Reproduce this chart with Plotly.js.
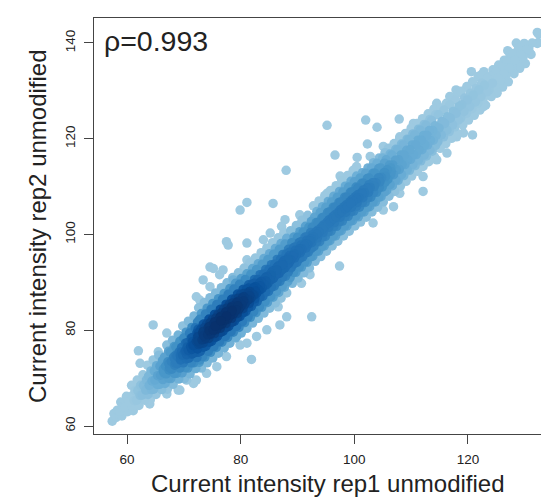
<!DOCTYPE html>
<html><head><meta charset="utf-8">
<script src="https://cdn.plot.ly/plotly-3.0.1.min.js"></script>
<style>html,body{margin:0;padding:0;overflow:hidden;background:#fff}</style>
</head><body>
<div id="chart" style="width:575px;height:497px"></div>
<script>
// main band points (rep1 = x, rep2 = y)
const bandRep1 = [
57.4,57.9,
58.1,57.7,58.3,
59.1,58.7,59.3,58.9,
60.1,59.7,60.3,59.9,
61.1,60.7,61.3,60.9,61.4,60.8,
62.1,61.7,62.3,61.9,62.4,61.8,
63.1,62.7,63.3,62.9,63.4,62.8,
64.1,63.7,64.3,63.9,64.4,63.8,64.2,63.6,
65.1,64.7,65.3,64.9,65.4,64.8,65.2,64.6,
66.1,65.7,66.3,65.9,66.4,65.8,66.2,65.6,
67.1,66.7,67.3,66.9,67.4,66.8,67.2,66.6,67.3,67.0,
68.1,67.7,68.3,67.9,68.4,67.8,68.2,67.6,68.3,68.0,
69.1,68.7,69.3,68.9,69.4,68.8,69.2,68.6,69.3,69.0,
70.1,69.7,70.3,69.9,70.4,69.8,70.2,69.6,70.3,70.0,70.4,69.8,
71.1,70.7,71.3,70.9,71.4,70.8,71.2,70.6,71.3,71.0,71.4,70.8,
72.1,71.7,72.3,71.9,72.4,71.8,72.2,71.6,72.3,72.0,72.4,71.8,
73.1,72.7,73.3,72.9,73.4,72.8,73.2,72.6,73.3,73.0,73.4,72.8,73.1,72.6,
74.1,73.7,74.3,73.9,74.4,73.8,74.2,73.6,74.3,74.0,74.4,73.8,74.1,73.6,
75.1,74.7,75.3,74.9,75.4,74.8,75.2,74.6,75.3,75.0,75.4,74.8,75.1,74.6,
76.1,75.7,76.3,75.9,76.4,75.8,76.2,75.6,76.3,76.0,76.4,75.8,76.1,75.6,
77.1,76.7,77.3,76.9,77.4,76.8,77.2,76.6,77.3,77.0,77.4,76.8,77.1,76.6,
78.1,77.7,78.3,77.9,78.4,77.8,78.2,77.6,78.3,78.0,78.4,77.8,78.1,77.6,
79.1,78.7,79.3,78.9,79.4,78.8,79.2,78.6,79.3,79.0,79.4,78.8,79.1,78.6,
80.1,79.7,80.3,79.9,80.4,79.8,80.2,79.6,80.3,80.0,80.4,79.8,80.1,79.6,
81.1,80.7,81.3,80.9,81.4,80.8,81.2,80.6,81.3,81.0,81.4,80.8,81.1,80.6,
82.1,81.7,82.3,81.9,82.4,81.8,82.2,81.6,82.3,82.0,82.4,81.8,82.1,81.6,
83.1,82.7,83.3,82.9,83.4,82.8,83.2,82.6,83.3,83.0,83.4,82.8,83.1,82.6,
84.1,83.7,84.3,83.9,84.4,83.8,84.2,83.6,84.3,84.0,84.4,83.8,84.1,83.6,
85.1,84.7,85.3,84.9,85.4,84.8,85.2,84.6,85.3,85.0,85.4,84.8,85.1,84.6,
86.1,85.7,86.3,85.9,86.4,85.8,86.2,85.6,86.3,86.0,86.4,85.8,86.1,85.6,
87.1,86.7,87.3,86.9,87.4,86.8,87.2,86.6,87.3,87.0,87.4,86.8,87.1,86.6,
88.1,87.7,88.3,87.9,88.4,87.8,88.2,87.6,88.3,88.0,88.4,87.8,88.1,87.6,
89.1,88.7,89.3,88.9,89.4,88.8,89.2,88.6,89.3,89.0,89.4,88.8,
90.1,89.7,90.3,89.9,90.4,89.8,90.2,89.6,90.3,90.0,90.4,89.8,
91.1,90.7,91.3,90.9,91.4,90.8,91.2,90.6,91.3,91.0,91.4,90.8,
92.1,91.7,92.3,91.9,92.4,91.8,92.2,91.6,92.3,92.0,92.4,91.8,
93.1,92.7,93.3,92.9,93.4,92.8,93.2,92.6,93.3,93.0,93.4,92.8,
94.1,93.7,94.3,93.9,94.4,93.8,94.2,93.6,94.3,94.0,94.4,93.8,
95.1,94.7,95.3,94.9,95.4,94.8,95.2,94.6,95.3,95.0,95.4,94.8,
96.1,95.7,96.3,95.9,96.4,95.8,96.2,95.6,96.3,96.0,96.4,95.8,
97.1,96.7,97.3,96.9,97.4,96.8,97.2,96.6,97.3,97.0,97.4,96.8,
98.1,97.7,98.3,97.9,98.4,97.8,98.2,97.6,98.3,98.0,98.4,97.8,
99.1,98.7,99.3,98.9,99.4,98.8,99.2,98.6,99.3,99.0,99.4,98.8,
100.1,99.7,100.3,99.9,100.4,99.8,100.2,99.6,100.3,100.0,100.4,99.8,
101.1,100.7,101.3,100.9,101.4,100.8,101.2,100.6,101.3,101.0,101.4,
102.1,101.7,102.3,101.9,102.4,101.8,102.2,101.6,102.3,102.0,102.4,
103.1,102.7,103.3,102.9,103.4,102.8,103.2,102.6,103.3,103.0,103.4,
104.1,103.7,104.3,103.9,104.4,103.8,104.2,103.6,104.3,104.0,104.4,
105.1,104.7,105.3,104.9,105.4,104.8,105.2,104.6,105.3,105.0,105.4,
106.1,105.7,106.3,105.9,106.4,105.8,106.2,105.6,106.3,106.0,
107.1,106.7,107.3,106.9,107.4,106.8,107.2,106.6,107.3,107.0,
108.1,107.7,108.3,107.9,108.4,107.8,108.2,107.6,108.3,108.0,
109.1,108.7,109.3,108.9,109.4,108.8,109.2,108.6,109.3,109.0,
110.1,109.7,110.3,109.9,110.4,109.8,110.2,109.6,110.3,110.0,
111.1,110.7,111.3,110.9,111.4,110.8,111.2,110.6,111.3,111.0,
112.1,111.7,112.3,111.9,112.4,111.8,112.2,111.6,112.3,112.0,
113.1,112.7,113.3,112.9,113.4,112.8,113.2,112.6,113.3,113.0,
114.1,113.7,114.3,113.9,114.4,113.8,114.2,113.6,114.3,114.0,
115.1,114.7,115.3,114.9,115.4,114.8,115.2,
116.1,115.7,116.3,115.9,116.4,115.8,116.2,
117.1,116.7,117.3,116.9,117.4,116.8,117.2,
118.1,117.7,118.3,117.9,118.4,117.8,118.2,
119.1,118.7,119.3,118.9,119.4,118.8,
120.1,119.7,120.3,119.9,120.4,119.8,
121.1,120.7,121.3,120.9,121.4,120.8,
122.1,121.7,122.3,121.9,122.4,121.8,
123.1,122.7,123.3,122.9,123.4,122.8,
124.1,123.7,124.3,123.9,124.4,
125.1,124.7,125.3,124.9,125.4,
126.1,125.7,126.3,125.9,126.4,
127.1,126.7,127.3,126.9,127.4,
128.1,127.7,128.3,127.9,
129.1,128.7,129.3,128.9,
130.1,129.7,130.3,129.9,
131.1,130.7,131.3,
132.2,132.4
];
const bandRep2 = [
61.0,61.9,
61.8,62.6,63.3,
62.1,63.1,64.0,65.0,
63.0,64.0,65.0,66.2,
63.2,64.3,65.3,66.3,67.4,68.5,
64.3,65.4,66.4,67.4,68.5,69.6,
65.4,66.5,67.5,68.5,69.6,70.7,
65.5,66.6,67.6,68.5,69.4,70.4,71.5,72.7,
66.6,67.7,68.7,69.6,70.5,71.5,72.6,73.8,
67.6,68.7,69.7,70.6,71.5,72.5,73.6,74.8,
67.7,68.9,70.0,70.9,71.7,72.5,73.4,74.4,75.6,76.9,
68.7,69.9,71.0,71.9,72.7,73.5,74.4,75.4,76.6,77.9,
69.8,71.0,72.1,73.0,73.8,74.6,75.5,76.5,77.7,79.0,
69.9,71.1,72.2,73.2,74.0,74.8,75.6,76.4,77.3,78.4,79.6,80.9,
70.9,72.1,73.2,74.2,75.0,75.8,76.6,77.4,78.3,79.4,80.6,81.9,
72.0,73.2,74.3,75.3,76.1,76.9,77.7,78.5,79.4,80.5,81.7,83.0,
72.1,73.3,74.5,75.6,76.5,77.3,78.0,78.7,79.4,80.2,81.2,82.3,83.5,84.7,
73.2,74.4,75.6,76.7,77.6,78.4,79.1,79.8,80.5,81.3,82.3,83.4,84.6,85.8,
74.2,75.4,76.6,77.7,78.6,79.4,80.1,80.8,81.5,82.3,83.3,84.4,85.6,86.8,
75.2,76.4,77.6,78.7,79.6,80.4,81.1,81.8,82.5,83.3,84.3,85.4,86.6,87.8,
76.3,77.5,78.7,79.8,80.7,81.5,82.2,82.9,83.6,84.4,85.4,86.5,87.7,88.9,
77.3,78.5,79.7,80.8,81.7,82.5,83.2,83.9,84.6,85.4,86.4,87.5,88.7,89.9,
78.4,79.6,80.8,81.9,82.8,83.6,84.3,85.0,85.7,86.5,87.5,88.6,89.8,91.0,
79.4,80.6,81.8,82.9,83.8,84.6,85.3,86.0,86.7,87.5,88.5,89.6,90.8,92.0,
80.4,81.6,82.8,83.9,84.8,85.6,86.3,87.0,87.7,88.5,89.5,90.6,91.8,93.0,
81.5,82.7,83.9,85.0,85.9,86.7,87.4,88.1,88.8,89.6,90.6,91.7,92.9,94.1,
82.5,83.7,84.9,86.0,86.9,87.7,88.4,89.1,89.8,90.6,91.6,92.7,93.9,95.1,
83.6,84.8,86.0,87.1,88.0,88.8,89.5,90.2,90.9,91.7,92.7,93.8,95.0,96.2,
84.6,85.8,87.0,88.1,89.0,89.8,90.5,91.2,91.9,92.7,93.7,94.8,96.0,97.2,
85.7,86.9,88.1,89.2,90.1,90.9,91.6,92.3,93.0,93.8,94.8,95.9,97.1,98.3,
86.7,87.9,89.1,90.2,91.1,91.9,92.6,93.3,94.0,94.8,95.8,96.9,98.1,99.3,
87.8,89.0,90.2,91.3,92.2,93.0,93.7,94.4,95.1,95.9,96.9,98.0,99.2,100.4,
89.8,91.0,92.1,93.1,93.9,94.7,95.5,96.3,97.2,98.3,99.5,100.8,
90.9,92.1,93.2,94.2,95.0,95.8,96.6,97.4,98.3,99.4,100.6,101.9,
92.0,93.2,94.3,95.3,96.1,96.9,97.7,98.5,99.4,100.5,101.7,103.0,
93.0,94.2,95.3,96.3,97.1,97.9,98.7,99.5,100.4,101.5,102.7,104.0,
94.4,95.5,96.5,97.5,98.5,99.5,100.5,101.5,102.5,103.6,104.8,106.0,
95.4,96.5,97.5,98.5,99.5,100.5,101.5,102.5,103.5,104.6,105.8,107.0,
96.5,97.6,98.6,99.6,100.6,101.6,102.6,103.6,104.6,105.7,106.9,108.1,
97.6,98.7,99.7,100.7,101.7,102.7,103.7,104.7,105.7,106.8,108.0,109.2,
98.6,99.7,100.7,101.7,102.7,103.7,104.7,105.7,106.7,107.8,109.0,110.2,
99.7,100.8,101.8,102.8,103.8,104.8,105.8,106.8,107.8,108.9,110.1,111.3,
100.7,101.8,102.8,103.8,104.8,105.8,106.8,107.8,108.8,109.9,111.1,112.3,
101.8,102.9,103.9,104.9,105.9,106.9,107.9,108.9,109.9,111.0,112.2,113.4,
102.6,103.7,104.7,105.7,106.7,107.7,108.7,109.7,110.7,111.8,112.9,
103.6,104.7,105.7,106.7,107.7,108.7,109.7,110.7,111.7,112.8,113.9,
104.7,105.8,106.8,107.8,108.8,109.8,110.8,111.8,112.8,113.9,115.0,
105.7,106.8,107.8,108.8,109.8,110.8,111.8,112.8,113.8,114.9,116.0,
106.8,107.9,108.9,109.9,110.9,111.9,112.9,113.9,114.9,116.0,117.1,
108.0,109.2,110.4,111.5,112.5,113.5,114.5,115.6,116.8,118.0,
109.0,110.2,111.4,112.5,113.5,114.5,115.5,116.6,117.8,119.0,
110.1,111.3,112.5,113.6,114.6,115.6,116.6,117.7,118.9,120.1,
111.1,112.3,113.5,114.6,115.6,116.6,117.6,118.7,119.9,121.1,
112.2,113.4,114.6,115.7,116.7,117.7,118.7,119.8,121.0,122.2,
113.2,114.4,115.6,116.7,117.7,118.7,119.7,120.8,122.0,123.2,
114.2,115.4,116.6,117.7,118.7,119.7,120.7,121.8,123.0,124.2,
115.2,116.4,117.6,118.7,119.7,120.7,121.7,122.8,124.0,125.2,
116.2,117.4,118.6,119.7,120.7,121.7,122.7,123.8,125.0,126.2,
118.0,119.4,120.8,122.2,123.6,125.0,126.4,
119.0,120.4,121.8,123.2,124.6,126.0,127.4,
120.1,121.5,122.9,124.3,125.7,127.1,128.5,
121.1,122.5,123.9,125.3,126.7,128.1,129.5,
122.9,124.3,125.7,127.1,128.5,129.9,
123.9,125.3,126.7,128.1,129.5,130.9,
124.9,126.3,127.7,129.1,130.5,131.9,
126.0,127.4,128.8,130.2,131.6,133.0,
127.0,128.4,129.8,131.2,132.6,134.0,
128.8,130.2,131.6,133.0,134.4,
129.8,131.2,132.6,134.0,135.4,
130.8,132.2,133.6,135.0,136.4,
131.9,133.3,134.7,136.1,137.5,
133.6,135.0,136.4,137.8,
134.7,136.1,137.5,138.9,
135.7,137.1,138.5,139.9,
137.6,138.8,140.0,
139.9,141.9
];
// extra points of the dense core (lower part of the band)
const coreRep1 = [
66.5,66.4,
67.5,67.4,
68.5,68.4,68.6,
69.5,69.4,69.6,
70.5,70.4,70.6,
71.5,71.4,71.6,71.5,71.4,
72.5,72.4,72.6,72.5,72.4,72.6,72.5,
73.5,73.4,73.6,73.5,73.4,73.6,73.5,
74.5,74.4,74.6,74.5,74.4,74.6,74.5,
75.5,75.4,75.6,75.5,75.4,75.6,75.5,
76.5,76.4,76.6,76.5,76.4,76.6,76.5,
77.5,77.4,77.6,77.5,77.4,77.6,77.5,
78.5,78.4,78.6,78.5,78.4,78.6,78.5,
79.5,79.4,79.6,79.5,79.4,79.6,79.5,
80.5,80.4,80.6,80.5,80.4,80.6,80.5,
81.5,81.4,81.6,81.5,81.4,
82.5,82.4,82.6,82.5,82.4,
83.5,83.4,83.6,
84.5,84.4,84.6
];
const coreRep2 = [
71.1,71.9,
72.2,73.0,
73.2,74.0,74.8,
73.9,74.7,75.5,
74.9,75.7,76.5,
75.2,76.0,76.8,77.6,78.4,
75.4,76.2,77.0,77.8,78.6,79.4,80.2,
76.5,77.3,78.1,78.9,79.7,80.5,81.3,
77.5,78.3,79.1,79.9,80.7,81.5,82.3,
78.5,79.3,80.1,80.9,81.7,82.5,83.3,
79.6,80.4,81.2,82.0,82.8,83.6,84.4,
80.6,81.4,82.2,83.0,83.8,84.6,85.4,
81.7,82.5,83.3,84.1,84.9,85.7,86.5,
82.7,83.5,84.3,85.1,85.9,86.7,87.5,
83.7,84.5,85.3,86.1,86.9,87.7,88.5,
85.6,86.4,87.2,88.0,88.8,
86.6,87.4,88.2,89.0,89.8,
88.5,89.3,90.1,
89.5,90.3,91.1
];
// extra points of the core ridge (middle part of the band)
const ridgeRep1 = [
85.5,85.4,85.6,
86.5,86.4,86.6,
87.5,87.4,87.6,
88.5,88.4,88.6,
89.5,89.4,89.6,
90.5,90.4,90.6,
91.5,91.4,91.6,
92.5,92.4,92.6,
93.5,93.4,93.6,
94.5,94.4,94.6,
95.5,95.4,95.6,
96.5,96.4,96.6,
97.5,97.4,97.6,
98.5,98.4,98.6,
99.5,99.4,99.6,
100.5,100.4,100.6,
101.5,101.4,101.6,
102.5,102.4,102.6,
103.5,103.4,
104.5,104.4,
105.5,105.4,
106.5,106.4
];
const ridgeRep2 = [
90.7,91.5,92.3,
91.8,92.6,93.4,
92.9,93.7,94.5,
94.0,94.8,95.6,
95.1,95.9,96.7,
96.2,97.0,97.8,
97.2,98.0,98.8,
98.3,99.1,99.9,
99.3,100.1,100.9,
100.4,101.2,102.0,
101.5,102.3,103.1,
102.5,103.3,104.1,
103.6,104.4,105.2,
104.6,105.4,106.2,
105.7,106.5,107.3,
106.7,107.5,108.3,
107.7,108.5,109.3,
108.8,109.6,110.4,
110.0,110.8,
111.0,111.8,
112.1,112.9,
113.1,113.9
];
// sparse points away from the band
const sparseRep1 = [62.0,62.3,64.6,67.0,65.5,69.0,72.2,74.0,75.8,77.5,70.5,72.8,79.3,81.1,81.9,86.6,86.9,88.1,90.7,92.2,92.5,97.4,72.2,72.8,73.4,75.2,76.9,74.6,76.3,78.7,74.6,77.5,77.8,81.1,81.1,84.0,85.2,79.9,81.1,85.7,87.8,87.2,90.4,88.0,95.2,102.0,104.0,107.9,102.3,96.6,100.5,97.5,95.2,108.0,112.1,112.1,106.9,105.1,103.3,119.2,120.8,120.6,122.4,117.9,127.0,128.5,130.9,132.2,132.4,64.0,67.0,69.3,71.7,
100.4,102.8,105.1,108.0,110.4,114.5,116.8,114.5,116.3,118.0,122.7,125.1,79.9,82.8,84.6];
const sparseRep2 = [75.7,73.1,81.1,79.4,75.5,67.5,69.6,71.0,72.4,74.5,69.6,73.8,78.7,77.3,73.9,84.9,81.1,82.8,89.8,91.6,82.8,93.4,87.0,86.3,90.5,92.9,92.6,89.1,91.6,90.5,93.2,98.5,97.8,98.2,94.7,98.9,100.3,105.1,106.7,106.5,103.1,101.7,104.1,113.4,122.8,123.9,122.4,124.1,118.9,116.6,116.1,112.2,108.6,108.6,112.1,109.0,105.8,105.1,102.4,121.2,120.8,134.0,133.4,130.2,138.4,140.0,137.9,142.2,140.1,64.6,66.7,67.5,68.9,
114.2,116.3,118.4,120.4,123.2,127.4,128.8,115.6,117.0,120.4,126.7,129.5,76.9,78.7,80.1];

const xTicks = [60, 80, 100, 120];
const yTicks = [60, 80, 100, 120, 140];
const xLabel = 'Current intensity rep1 unmodified';
const yLabel = 'Current intensity rep2 unmodified';
const rhoText = 'ρ=0.993';
const blues = ['#9ECAE1','#6BAED6','#4292C6','#2171B5','#08519C','#08306B'];

const groups = [[bandRep1,bandRep2],[coreRep1,coreRep2],[ridgeRep1,ridgeRep2],[sparseRep1,sparseRep2]];
groups.forEach((p,i)=>{
  if (p[0].length !== p[1].length) throw new Error('length mismatch in group '+i+': '+p[0].length+' vs '+p[1].length);
});
const rep1 = [].concat(...groups.map(g => g[0]));
const rep2 = [].concat(...groups.map(g => g[1]));

// 2D kernel density at every point (like densCols)
const hx = 2.2, hy = 2.4;
const dens = rep1.map((x, i) => {
  let s = 0;
  for (let j = 0; j < rep1.length; j++) {
    const dx = (rep1[j] - x) / hx, dy = (rep2[j] - rep2[i]) / hy;
    s += Math.exp(-0.5 * (dx * dx + dy * dy));
  }
  return s;
});
const dmax = Math.max(...dens);
const order = dens.map((d, i) => i).sort((a, b) => dens[a] - dens[b]);
const px = order.map(i => rep1[i]);
const py = order.map(i => rep2[i]);
const pz = order.map(i => dens[i] / dmax);

const cs = blues.map((c, i) => [i / (blues.length - 1), c]);
const font = 'Liberation Sans, Arial, Helvetica, sans-serif';
const ink = '#222222';

const trace = {
  type: 'scatter', mode: 'markers', x: px, y: py, hoverinfo: 'skip',
  marker: { size: 9.5, color: pz, colorscale: cs, cmin: 0.3, cmax: 1, showscale: false, line: { width: 0 } }
};

const axisCommon = {
  ticks: 'outside', ticklen: 9, tickwidth: 1, tickcolor: '#444',
  showline: true, linecolor: '#444', linewidth: 1, mirror: true,
  showgrid: false, zeroline: false,
  tickfont: { family: font, size: 13.5, color: ink }
};

const layout = {
  width: 575, height: 497,
  margin: { l: 94, r: 14, t: 18, b: 63 },
  paper_bgcolor: '#fff', plot_bgcolor: '#fff',
  showlegend: false,
  font: { family: font, color: ink },
  xaxis: Object.assign({}, axisCommon, { range: [54.19, 136.37], tickvals: xTicks, ticktext: xTicks.map(String), ticklabelstandoff: 4 }),
  yaxis: Object.assign({}, axisCommon, { range: [58.33, 145.22], tickvals: yTicks, ticktext: yTicks.map(String), tickangle: -90, ticklabelstandoff: 4 }),
  annotations: [
    { text: xLabel, xref: 'paper', yref: 'paper', x: 0.5, y: -0.1178, xanchor: 'center', yanchor: 'middle', showarrow: false, font: { family: font, size: 24, color: ink } },
    { text: yLabel, xref: 'paper', yref: 'paper', x: -0.1221, y: 0.5, xanchor: 'center', yanchor: 'middle', textangle: -90, showarrow: false, font: { family: font, size: 24, color: ink } },
    { text: rhoText, xref: 'paper', yref: 'paper', x: 0.0172, y: 0.9447, xanchor: 'left', yanchor: 'middle', showarrow: false, font: { family: font, size: 28.5, color: ink } }
  ]
};

Plotly.newPlot('chart', [trace], layout, { staticPlot: true, displayModeBar: false });
</script>
</body></html>
